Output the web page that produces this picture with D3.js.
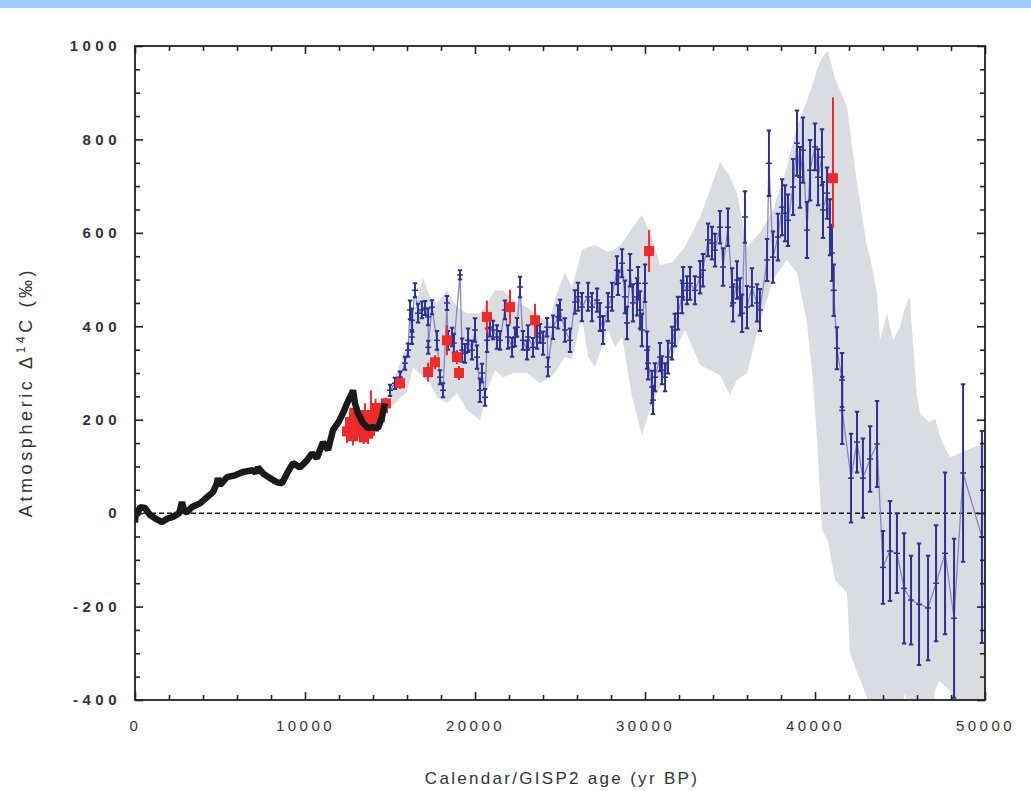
<!DOCTYPE html>
<html>
<head>
<meta charset="UTF-8">
<title>Atmospheric D14C</title>
<script src="https://cdnjs.cloudflare.com/ajax/libs/d3/7.8.5/d3.min.js"></script>
<style>
  body { margin: 0; background: #fff; }
  text { font-family: "Liberation Sans", Arial, sans-serif; fill: #333; }
</style>
</head>
<body>
<div id="chart"></div>
<script>
// tick values
var xMajor = [0, 10000, 20000, 30000, 40000, 50000];
var xMinor = [2000, 4000, 6000, 8000, 12000, 14000, 16000, 18000, 22000, 24000, 26000, 28000,
              32000, 34000, 36000, 38000, 42000, 44000, 46000, 48000];
var yMajor = [-400, -200, 0, 200, 400, 600, 800, 1000];
var yMinor = [-350, -300, -250, -150, -100, -50, 50, 100, 150, 250, 300, 350, 450, 500, 550,
              650, 700, 750, 850, 900, 950];

// grey uncertainty envelope
var bandAge = [15000, 16000, 16350, 16940, 17350, 17760, 18350, 18940, 19530, 20290, 20710, 21180,
               21650, 22240, 23060, 23820, 24410, 24700, 25290, 25710, 26290, 26650, 27060, 27820,
               28240, 28650, 29240, 29820, 30410, 30880, 31590, 32350, 33240, 34410, 35000, 35410,
               36000, 36760, 37530, 38350, 38940, 39530, 39880, 40120, 40410, 40760, 41180, 41880,
               42060, 42470, 43060, 43240, 43650, 43820, 44240, 44590, 45000, 45300, 45590, 45650,
               46000, 46180, 46700, 46900, 47060, 47300, 47500, 47940, 48300, 48940, 50000];
var bandHi = [265, 360, 420, 505, 463, 450, 477, 441, 428, 428, 450, 477,
              477, 456, 441, 420, 407, 460, 514, 484, 563, 570, 574, 559,
              565, 578, 610, 638, 590, 531, 537, 570, 634, 752, 720, 685,
              570, 600, 649, 741, 827, 884, 920, 950, 975, 991, 930, 870,
              820, 707, 570, 548, 470, 370, 428, 370, 400, 440, 463, 420,
              250, 214, 195, 198, 203, 171, 150, 120, 125, 135, 150];
var bandLo = [225, 260, 313, 291, 278, 248, 235, 257, 220, 199, 263, 306,
              291, 300, 300, 278, 291, 300, 334, 330, 420, 334, 313, 392,
              355, 377, 248, 167, 235, 270, 334, 392, 317, 295, 253, 285,
              300, 407, 499, 542, 514, 407, 285, 156, -36, -60, -143, -171,
              -300, -340, -394, -430, -440, -440, -440, -430, -430, -385, -430, -440,
              -440, -440, -440, -430, -380, -360, -365, -380, -430, -440, -440];

// tree-ring / varve record (black)
var blackAge = [0, 60, 118, 294, 588, 882, 1176, 1588, 1941, 2235, 2600, 2765, 2900, 3059, 3353,
                3824, 4235, 4588, 4800, 4882, 5000, 5412, 5882, 6353, 6941, 7100, 7235, 7529,
                7941, 8353, 8647, 8941, 9294, 9706, 10118, 10412, 10706, 11059, 11353, 11647,
                11941, 12235, 12471, 12765, 12824, 12941, 13118, 13412, 13706, 14000, 14294,
                14529, 14706];
var blackD14C = [-20, 10, -5, 13, 11, -4, -11, -19, -11, -8, 0, 24, 4, 2, 13,
                 21, 34, 45, 62, 75, 60, 77, 81, 88, 92, 86, 98, 85,
                 75, 66, 64, 85, 107, 98, 113, 128, 118, 152, 135, 178,
                 193, 214, 235, 257, 263, 235, 214, 193, 182, 184, 182,
                 206, 235];

// coral / speleothem record (red squares)
var redAge = [12470, 12650, 12820, 12900, 13000, 13180, 13350, 13450, 13530, 13710, 13880, 14060,
              14150, 14240, 14410, 14590, 14760, 15590, 17240, 17650, 18350, 18940, 19060, 20700,
              22060, 23530, 30240, 41060];
var redD14C = [175, 195, 165, 215, 205, 180, 190, 162, 210, 170, 200, 185,
               225, 215, 205, 225, 235, 278, 302, 323, 370, 334, 300, 420,
               441, 413, 561, 717];
var redLo = [150, 175, 145, 195, 185, 162, 170, 148, 185, 148, 170, 165,
             205, 195, 187, 210, 223, 266, 282, 308, 338, 319, 285, 385,
             404, 378, 516, 610];
var redHi = [200, 215, 185, 235, 225, 198, 210, 176, 235, 192, 263, 205,
             245, 235, 223, 240, 247, 290, 322, 338, 402, 349, 315, 455,
             478, 448, 606, 890];

// GISP2-based record (blue)
var blueAge = [15000, 15290, 15590, 15880, 16060, 16180, 16290, 16300, 16470, 16650, 16880, 17060,
               17240, 17250, 17470, 17760, 17940, 18120, 18350, 18410, 18650, 18760, 19120, 19240,
               19410, 19590, 19820, 20000, 20120, 20290, 20410, 20590, 20710, 20880, 21060, 21290,
               21470, 21760, 21940, 22180, 22350, 22470, 22650, 22820, 23060, 23120, 23410, 23650,
               23820, 24000, 24240, 24290, 24590, 24880, 25000, 25290, 25590, 25880, 26060, 26290,
               26650, 26880, 27180, 27350, 27530, 27820, 28060, 28350, 28410, 28650, 28820, 28940,
               29120, 29290, 29530, 29590, 29710, 29820, 30000, 30120, 30180, 30410, 30470, 30590,
               30880, 31000, 31180, 31350, 31590, 31760, 31940, 32180, 32240, 32470, 32650, 32940,
               33240, 33410, 33710, 33940, 34120, 34410, 34590, 34880, 35120, 35180, 35410, 35590,
               35710, 35880, 36000, 36290, 36590, 36760, 37180, 37290, 37530, 37820, 38060, 38240,
               38410, 38710, 38940, 39120, 39290, 39530, 39710, 40000, 40180, 40410, 40470, 40710,
               40880, 41000, 41100, 41290, 41590, 41600, 42120, 42470, 42820, 43240, 43650, 44000,
               44410, 44820, 45240, 45650, 46120, 46650, 47120, 47650, 48180, 48710, 49820];
var blueD14C = [263, 278, 291, 321, 349, 435, 377, 413, 477, 428, 435, 439,
                420, 355, 441, 370, 291, 263, 450, 370, 377, 364, 510, 349,
                342, 370, 349, 392, 334, 263, 300, 248, 370, 398, 392, 377,
                370, 435, 377, 355, 377, 398, 484, 370, 349, 377, 355, 377,
                385, 364, 398, 313, 398, 420, 435, 392, 370, 452, 463, 441,
                463, 441, 456, 420, 392, 441, 463, 520, 492, 535, 463, 407,
                520, 450, 463, 492, 435, 392, 492, 349, 321, 270, 242, 291,
                334, 306, 291, 334, 364, 392, 428, 463, 492, 477, 492, 477,
                505, 520, 585, 578, 563, 612, 527, 612, 484, 450, 499, 463,
                428, 634, 441, 484, 450, 435, 542, 749, 548, 591, 655, 642,
                627, 698, 792, 719, 777, 606, 734, 784, 719, 762, 649, 685,
                612, 557, 477, 353, 285, 220, 75, 152, 75, 116, 148, -116,
                -81, -86, -161, -186, -195, -203, -150, -86, -225, 86, -51];
var blueErr = [12, 12, 12, 14, 14, 20, 15, 25, 15, 20, 18, 15,
               18, 14, 15, 20, 15, 15, 15, 20, 20, 20, 10, 25,
               20, 25, 20, 25, 25, 25, 20, 18, 25, 20, 20, 25,
               20, 20, 25, 20, 20, 20, 22, 20, 20, 25, 20, 25,
               20, 25, 20, 20, 25, 25, 22, 25, 25, 25, 30, 30,
               30, 30, 25, 30, 30, 30, 30, 30, 25, 30, 35, 35,
               35, 40, 40, 35, 40, 35, 40, 40, 35, 35, 30, 30,
               30, 30, 30, 35, 35, 35, 35, 35, 35, 30, 35, 30,
               35, 35, 35, 35, 35, 35, 40, 40, 40, 40, 40, 40,
               40, 55, 45, 40, 40, 45, 45, 70, 55, 50, 60, 60,
               55, 60, 70, 65, 70, 60, 65, 50, 60, 60, 60, 55,
               60, 60, 55, 45, 58, 72, 95, 65, 85, 70, 92, 78,
               107, 85, 118, 95, 130, 112, 124, 173, 170, 190, 227];

var W = 1031, H = 791;
var x = d3.scaleLinear().domain([0, 50000]).range([135, 985]);
var y = d3.scaleLinear().domain([-400, 1000]).range([700, 46]);

var svg = d3.select("#chart").append("svg")
    .attr("width", W)
    .attr("height", H);

// light blue strip along the top of the page
svg.append("rect").attr("x", 0).attr("y", 0).attr("width", W).attr("height", 8)
    .attr("fill", "#9fcdfd");

svg.append("clipPath").attr("id", "plot")
    .append("rect").attr("x", 135).attr("y", 46).attr("width", 850).attr("height", 654);

var plot = svg.append("g").attr("clip-path", "url(#plot)");

// grey envelope
var band = bandAge.map(function (a, i) { return [a, bandHi[i], bandLo[i]]; });
plot.append("path")
    .attr("d", d3.area()
        .x(function (d) { return x(d[0]); })
        .y0(function (d) { return y(d[2]); })
        .y1(function (d) { return y(d[1]); })(band))
    .attr("fill", "#d9dde2");

// zero line
plot.append("line")
    .attr("x1", x(0)).attr("x2", x(50000))
    .attr("y1", y(0)).attr("y2", y(0))
    .attr("stroke", "#111").attr("stroke-width", 1.5)
    .attr("stroke-dasharray", "5,3");

function errPath(xx, lo, hi, cap) {
    return "M" + (xx - cap) + "," + hi + "H" + (xx + cap) +
           "M" + xx + "," + hi + "V" + lo +
           "M" + (xx - cap) + "," + lo + "H" + (xx + cap);
}

// blue series
var blue = blueAge.map(function (a, i) { return [a, blueD14C[i], blueErr[i]]; });
plot.append("path")
    .attr("d", d3.line()
        .x(function (d) { return x(d[0]); })
        .y(function (d) { return y(d[1]); })(blue))
    .attr("fill", "none").attr("stroke", "#8587c4").attr("stroke-width", 1.3);

plot.append("g").selectAll("path").data(blue).enter().append("path")
    .attr("d", function (d) {
        return errPath(x(d[0]), y(d[1] - d[2]), y(d[1] + d[2]), 2.2);
    })
    .attr("fill", "none").attr("stroke", "#2e3192").attr("stroke-width", 2);

plot.append("g").selectAll("path").data(blue).enter().append("path")
    .attr("d", function (d) {
        var px = x(d[0]), py = y(d[1]);
        return "M" + (px - 3) + "," + py + "H" + (px + 3);
    })
    .attr("stroke", "#2e3192").attr("stroke-width", 1.5);

// red series
var red = redAge.map(function (a, i) { return [a, redD14C[i], redLo[i], redHi[i]]; });
plot.append("g").selectAll("path").data(red).enter().append("path")
    .attr("d", function (d) {
        return errPath(x(d[0]), y(d[2]), y(d[3]), 0);
    })
    .attr("stroke", "#ee2a2a").attr("stroke-width", 2);

plot.append("g").selectAll("rect").data(red).enter().append("rect")
    .attr("x", function (d) { return x(d[0]) - 5; })
    .attr("y", function (d) { return y(d[1]) - 5; })
    .attr("width", 10).attr("height", 10)
    .attr("fill", "#ee2a2a");

// black series
var black = blackAge.map(function (a, i) { return [a, blackD14C[i]]; });
plot.append("path")
    .attr("d", d3.line()
        .x(function (d) { return x(d[0]); })
        .y(function (d) { return y(d[1]); })(black))
    .attr("fill", "none").attr("stroke", "#1a1a1a").attr("stroke-width", 6.5)
    .attr("stroke-linejoin", "bevel");

// axes with inward ticks
function styleAxis(g) {
    g.select(".domain").remove();
    g.selectAll(".tick line").attr("stroke", "#222").attr("stroke-width", 1.6);
}
var plain = function (d) { return String(d); };

svg.append("g").attr("transform", "translate(0,700)")
    .call(d3.axisBottom(x).tickValues(xMajor).tickSize(-8).tickPadding(20).tickFormat(plain))
    .call(styleAxis)
    .selectAll("text")
    .style("font-size", "15px").style("letter-spacing", "3.5px").attr("fill", "#333");
svg.append("g").attr("transform", "translate(0,700)")
    .call(d3.axisBottom(x).tickValues(xMinor).tickSize(-5).tickFormat(""))
    .call(styleAxis);
svg.append("g").attr("transform", "translate(0,46)")
    .call(d3.axisTop(x).tickValues(xMajor).tickSize(-8).tickFormat(""))
    .call(styleAxis);
svg.append("g").attr("transform", "translate(0,46)")
    .call(d3.axisTop(x).tickValues(xMinor).tickSize(-5).tickFormat(""))
    .call(styleAxis);

svg.append("g").attr("transform", "translate(135,0)")
    .call(d3.axisLeft(y).tickValues(yMajor).tickSize(-8).tickPadding(14).tickFormat(plain))
    .call(styleAxis)
    .selectAll("text")
    .style("font-size", "15px").style("font-weight", "bold")
    .style("letter-spacing", "4.5px").attr("fill", "#333");
svg.append("g").attr("transform", "translate(135,0)")
    .call(d3.axisLeft(y).tickValues(yMinor).tickSize(-5).tickFormat(""))
    .call(styleAxis);
svg.append("g").attr("transform", "translate(985,0)")
    .call(d3.axisRight(y).tickValues(yMajor).tickSize(-8).tickFormat(""))
    .call(styleAxis);
svg.append("g").attr("transform", "translate(985,0)")
    .call(d3.axisRight(y).tickValues(yMinor).tickSize(-5).tickFormat(""))
    .call(styleAxis);

// frame
svg.append("rect")
    .attr("x", 135).attr("y", 46).attr("width", 850).attr("height", 654)
    .attr("fill", "none").attr("stroke", "#222").attr("stroke-width", 1.8);

// axis titles
svg.append("text")
    .attr("x", 562).attr("y", 784)
    .attr("text-anchor", "middle")
    .style("font-size", "17px").style("letter-spacing", "2.3px")
    .text("Calendar/GISP2 age (yr BP)");

var yt = svg.append("text")
    .attr("transform", "translate(32,392) rotate(-90)")
    .attr("text-anchor", "middle")
    .style("font-size", "18px").style("letter-spacing", "3.6px");
yt.append("tspan").text("Atmospheric \u0394");
yt.append("tspan").attr("dy", -7).style("font-size", "12px").text("14");
yt.append("tspan").attr("dy", 7).text("C (\u2030)");
</script>
</body>
</html>
